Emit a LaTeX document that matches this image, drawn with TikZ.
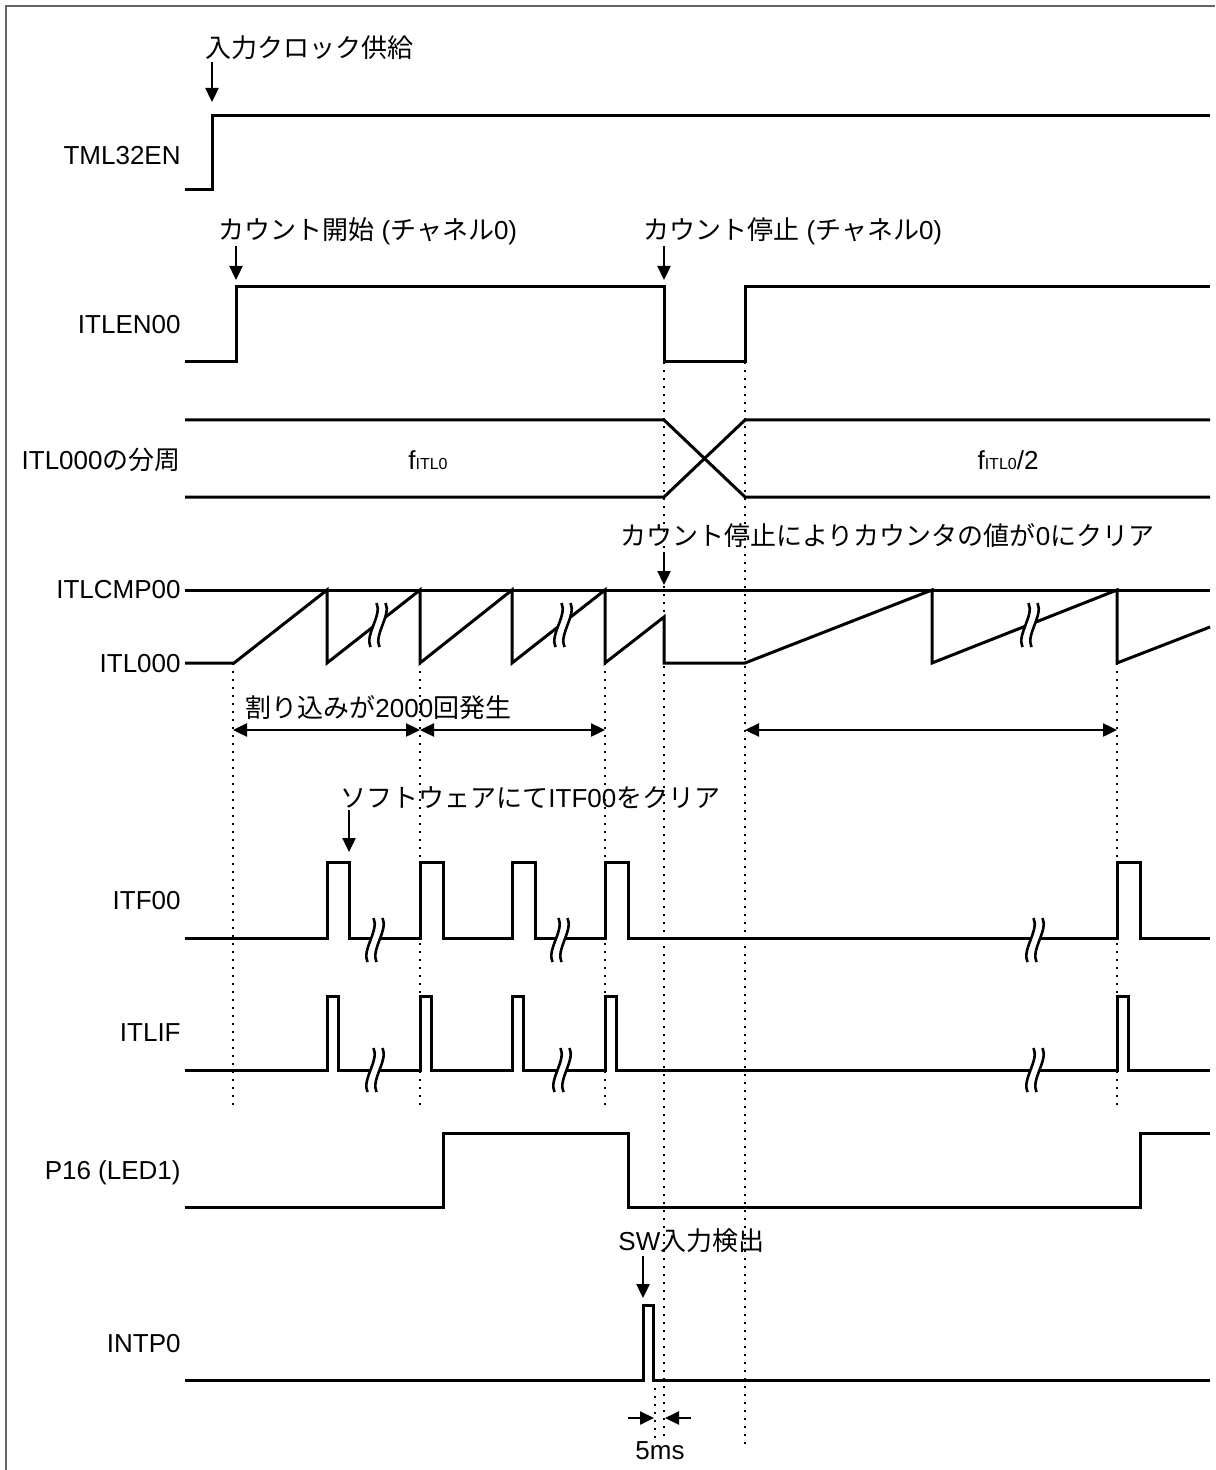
\documentclass[tikz,border=0pt]{standalone}
\usepackage{fontspec}
\setmainfont{Liberation Sans}
\newfontfamily\jp{Noto Sans CJK JP}
\usetikzlibrary{arrows.meta,positioning}

\tikzset{
  brk/.pic={
    \draw[white, line width=4.5pt] (3,-22) .. controls (9,-10) and (-9,10) .. (-3,22);
    \draw[black, line width=1.3pt] (-1.5,-22) .. controls (4.5,-10) and (-13.5,10) .. (-7.5,22);
    \draw[black, line width=1.3pt] (7.5,-22) .. controls (13.5,-10) and (-4.5,10) .. (1.5,22);
  }
}

\begin{document}
\begin{tikzpicture}[x=0.5pt, y=-0.5pt, every node/.style={font=\fontsize{13pt}{15pt}\selectfont, inner sep=0pt}, sig/.style={line width=1.5pt}, guide/.style={line width=1pt, dash pattern=on 1pt off 3pt}, dn/.style={-{Triangle[length=7pt, width=6.5pt]}, line width=1.2pt}, span/.style={{Triangle[length=7pt, width=6.5pt]}-{Triangle[length=7pt, width=6.5pt]}, line width=1.2pt}]
\useasboundingbox (0,0) rectangle (1215,1470);
\draw[gray!80!black, line width=1pt] (6,1470) -- (6,6) -- (1215,6);

% guides
\foreach \x in {233,420,605,1117} {\draw[guide] (\x,663) -- (\x,1110);}
\draw[guide] (664,362) -- (664,1442);
\draw[guide] (745,362) -- (745,1445);
\draw[guide] (655,1380) -- (655,1442);

% signal labels
\foreach \y/\name/\txt in {165/lTML/TML32EN, 334/lEN/ITLEN00, 469/lDIV/ITL000{\jp の分周}, 598/lCMP/ITLCMP00, 672/lCNT/ITL000, 909/lITF/ITF00, 1041/lIF/ITLIF, 1179/lLED/P16 (LED1), 1352/lINT/INTP0} {\node[anchor=base east] (\name) at (181,\y) {\txt};}

% waveforms
\draw[sig] (185,190) -- (212,190) -- (212,116) -- (1210,116);
\draw[sig] (185,362) -- (236,362) -- (236,287) -- (664,287) -- (664,362) -- (745,362) -- (745,287) -- (1210,287);
\draw[sig] (185,420) -- (664,420) -- (745,497) -- (1210,497);
\draw[sig] (185,497) -- (664,497) -- (745,420) -- (1210,420);
\draw[sig] (185,590) -- (1210,590);
\draw[sig] (185,663) -- (234,663) -- (327,590) -- (327,663) -- (420,590) -- (420,663) -- (512,590) -- (512,663) -- (605,590) -- (605,663) -- (664,617) -- (664,663) -- (745,663) -- (932,590) -- (932,663) -- (1117,590) -- (1117,663) -- (1210,627);
\draw[sig] (185,938) foreach \a/\b in {327/349,420/443,512/535,605/628,1117/1140} { -- (\a,938) -- (\a,862) -- (\b,862) -- (\b,938) } -- (1210,938);
\draw[sig] (185,1070) foreach \a/\b in {327/338,420/431,512/523,605/616,1117/1128} { -- (\a,1070) -- (\a,996) -- (\b,996) -- (\b,1070) } -- (1210,1070);
\draw[sig] (185,1207) -- (443,1207) -- (443,1133) -- (628,1133) -- (628,1207) -- (1140,1207) -- (1140,1133) -- (1210,1133);
\draw[sig] (185,1380) -- (643,1380) -- (643,1305) -- (653,1305) -- (653,1380) -- (1210,1380);

% breaks
\foreach \x/\y in {378/625,563/625,1030/625,375/940,560/940,1035/940,375/1070,562/1070,1035/1070} {\pic at (\x,\y) {brk};}

% bus values
\node[anchor=base] (vDIV1) at (428,469) {f{\fontsize{8pt}{8pt}\selectfont ITL0}};
\node[anchor=base] (vDIV2) at (1008,469) {f{\fontsize{8pt}{8pt}\selectfont ITL0}/2};

% annotations
\node[anchor=base west] (aClk) at (205,58) {{\jp 入力クロック供給}};
\draw[dn] (212,62) -- (212,102);
\node[anchor=base west] (aStart) at (218,240) {{\jp カウント開始} ({\jp チャネル}0)};
\draw[dn] (236,246) -- (236,280);
\node[anchor=base west] (aStop) at (643,240) {{\jp カウント停止} ({\jp チャネル}0)};
\draw[dn] (664,246) -- (664,280);
\node[anchor=base west] (aClr) at (620,545) {{\jp カウント停止によりカウンタの値が}0{\jp にクリア}};
\draw[dn] (664,552) -- (664,585);
\node[anchor=base west] (aIrq) at (245,717) {{\jp 割り込みが}2000{\jp 回発生}};
\draw[span] (233,730) -- (420,730);
\draw[span] (420,730) -- (605,730);
\draw[span] (745,730) -- (1117,730);
\node[anchor=base west] (aSw) at (340,807) {{\jp ソフトウェアにて}ITF00{\jp をクリア}};
\draw[dn] (349,810) -- (349,852);
\node[anchor=base west] (aIn) at (618,1250) {SW{\jp 入力検出}};
\draw[dn] (643,1256) -- (643,1298);
\draw[dn] (628,1418) -- (654,1418);
\draw[dn] (691,1418) -- (665,1418);
\node[anchor=base] (a5ms) at (660,1459) {5ms};
\end{tikzpicture}
\end{document}
